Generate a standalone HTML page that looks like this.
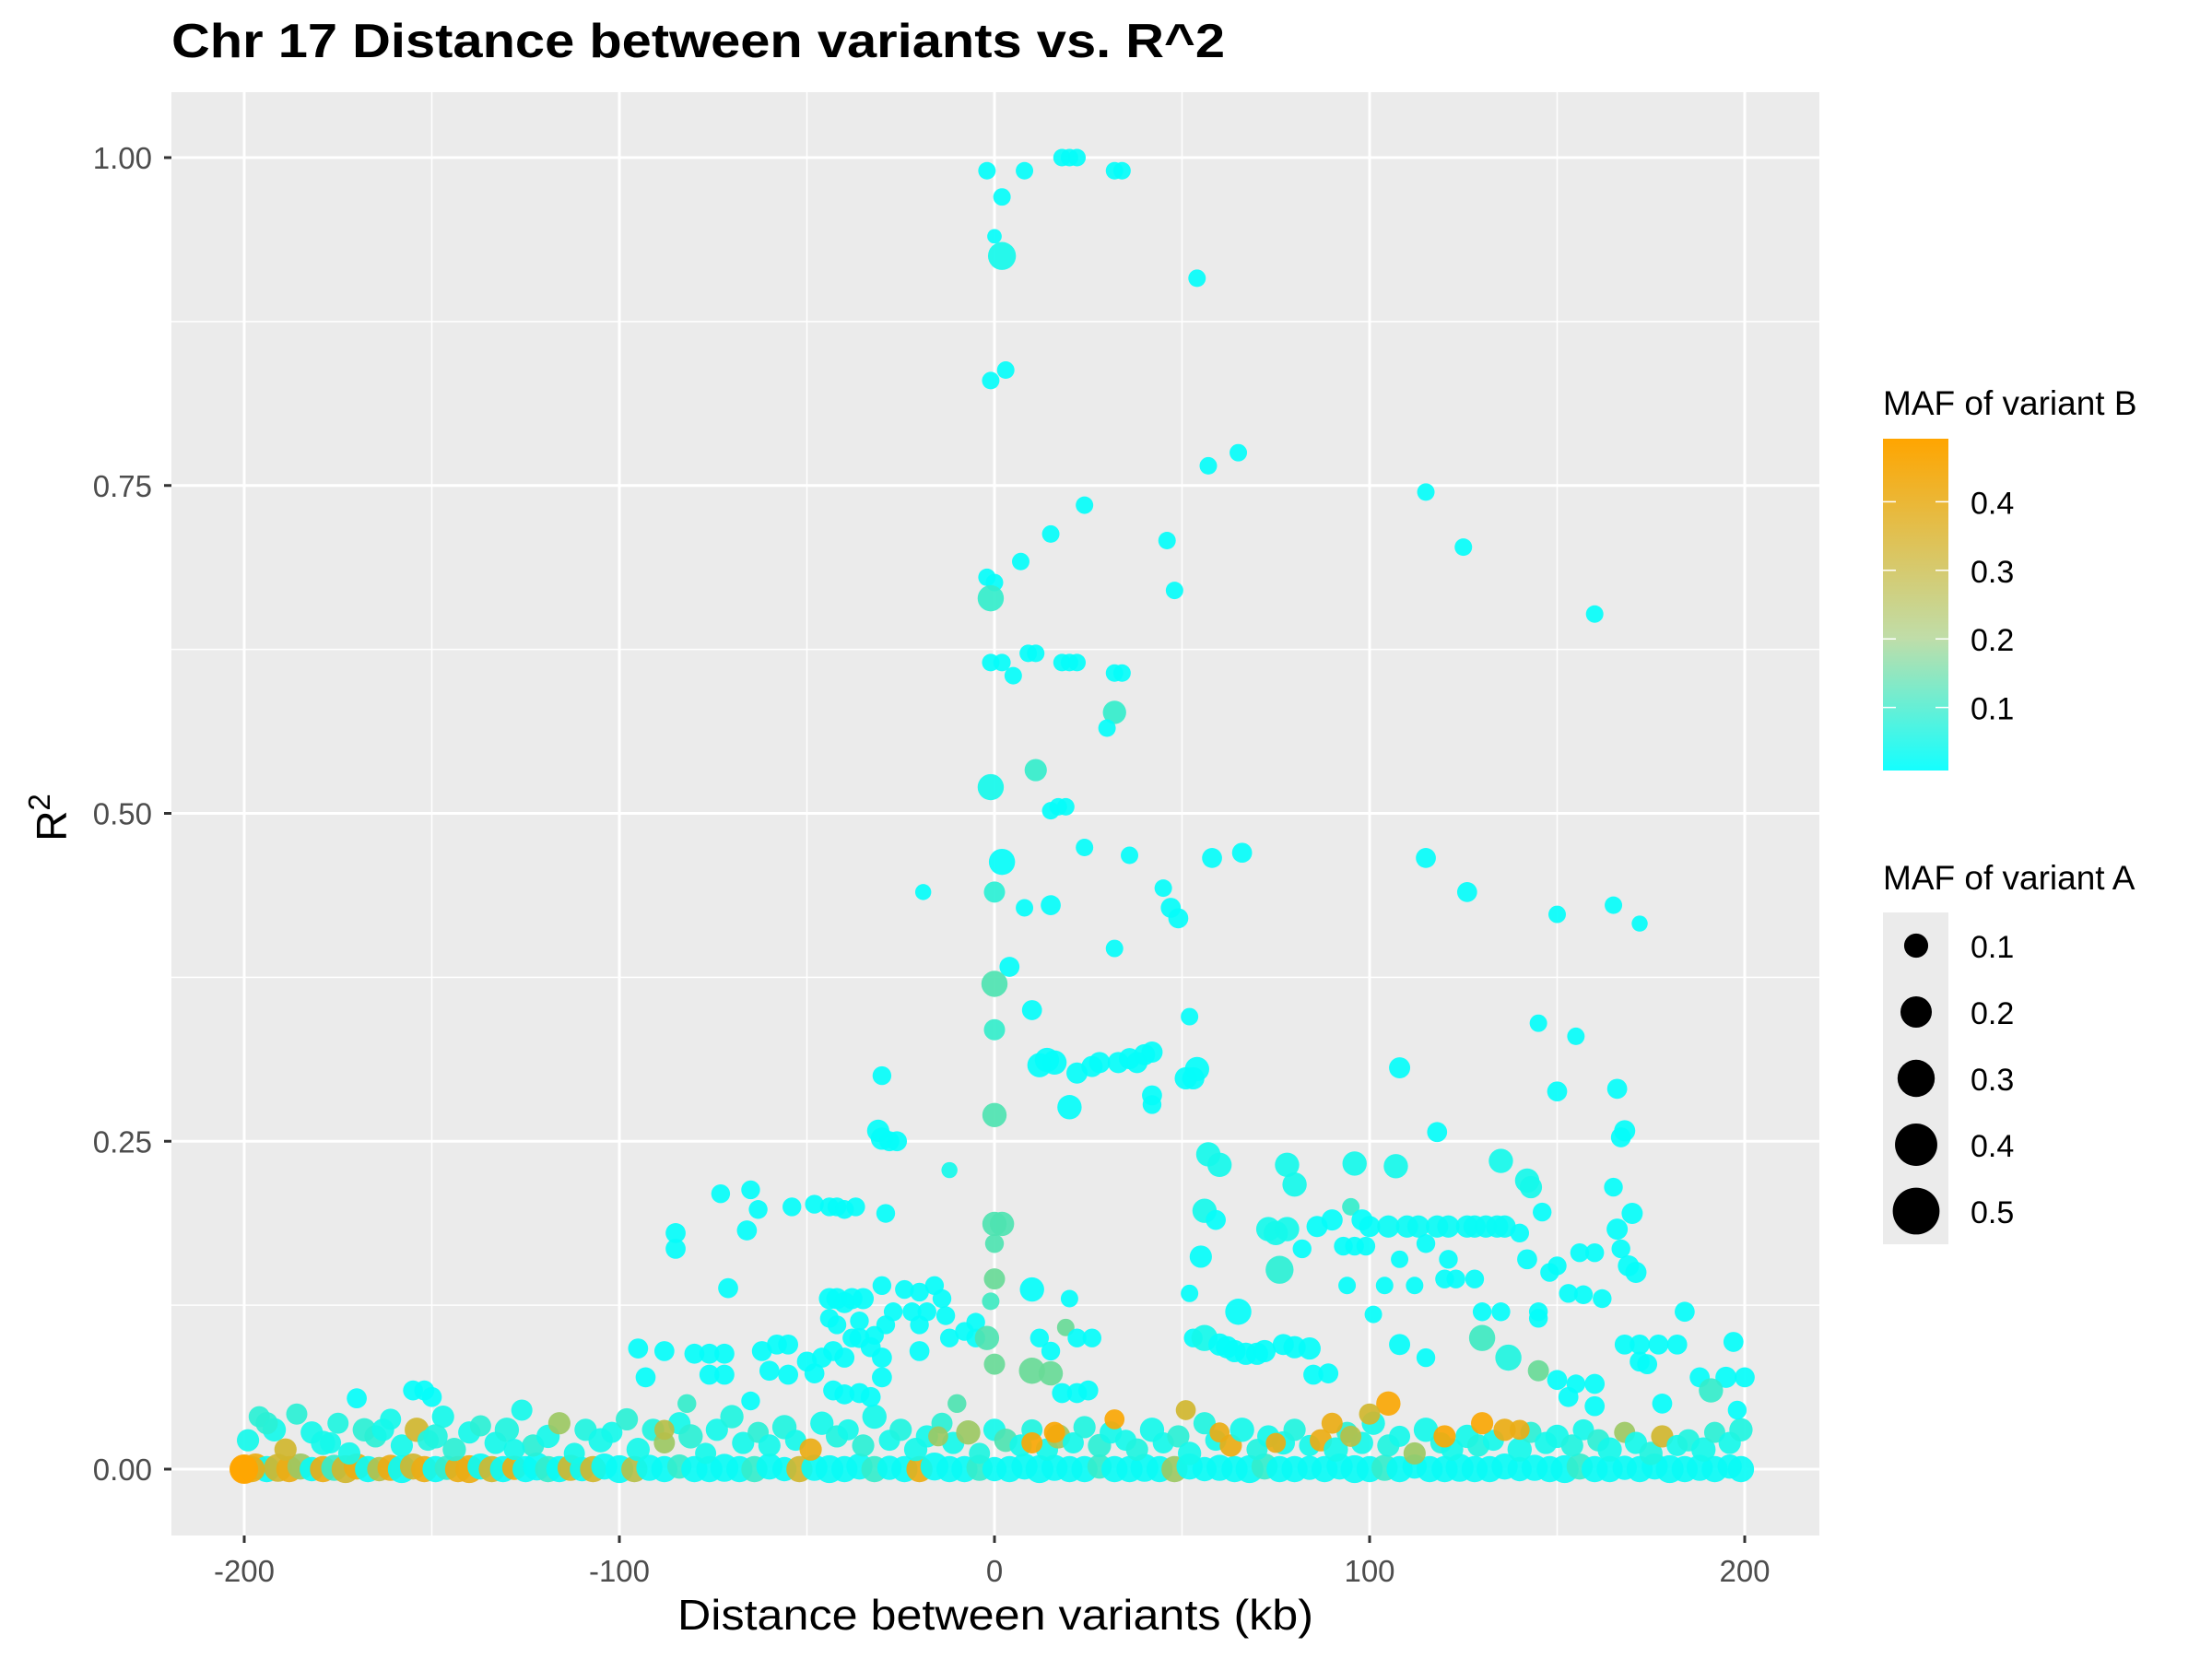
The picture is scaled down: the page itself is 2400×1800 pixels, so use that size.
<!DOCTYPE html>
<html><head><meta charset="utf-8"><style>
html,body{margin:0;padding:0;background:#fff;}
svg{display:block;font-family:"Liberation Sans",Arial,sans-serif;}
</style></head><body>
<svg id="chart" width="2400" height="1800" viewBox="0 0 2400 1800" xmlns="http://www.w3.org/2000/svg">
<rect x="0" y="0" width="2400" height="1800" fill="#fff"/>
<text x="186" y="62" font-size="52" font-weight="bold" fill="#000" textLength="1143" lengthAdjust="spacingAndGlyphs">Chr 17 Distance between variants vs. R^2</text>
<rect x="186" y="100" width="1788" height="1566" fill="#EBEBEB"/>
<g id="grid"></g>
<g id="ticks"></g>
<g id="points"></g>
<text x="1080" y="1768" font-size="46" text-anchor="middle" fill="#000" textLength="690" lengthAdjust="spacingAndGlyphs">Distance between variants (kb)</text>
<text transform="translate(72,887) rotate(-90)" font-size="46" text-anchor="middle" fill="#000">R<tspan dy="-18" font-size="33">2</tspan></text>
<defs><linearGradient id="cgrad" x1="0" y1="1" x2="0" y2="0"><stop offset="0" stop-color="#14FFFF"/><stop offset="0.4" stop-color="#C0DDA8"/><stop offset="1" stop-color="#FFA500"/></linearGradient></defs>
<g transform="translate(-11,-4)">
<text x="2054" y="454" font-size="37" fill="#000">MAF of variant B</text>
<rect x="2054" y="480" width="71" height="360" fill="url(#cgrad)"/>
<g id="clegend"></g>
<text x="2054" y="969" font-size="37" fill="#000">MAF of variant A</text>
<rect x="2054" y="994" width="71" height="360" fill="#EBEBEB"/>
<g id="slegend"></g>
</g>
</svg>
<script>
const xTicks=[-200,-100,0,100,200];
const xMinor=[-150,-50,50,150];
const yTicks=[0,0.25,0.5,0.75,1];
const yTickLabels=["0.00","0.25","0.50","0.75","1.00"];
const yMinor=[0.125,0.375,0.625,0.875];
const colorTicks=[0.1,0.2,0.3,0.4];
const sizeTicks=[0.1,0.2,0.3,0.4,0.5];

const scatterDist=[-2,2,8,18,20,22,32,34,0,2,
54,-1,3,57,65,115,125,24,15,46,
7,-2,0,-1,48,160,2,-1,9,11,
5,18,20,22,32,34,32,30,-1,11,
15,17,19,2,24,36,58,66,115,126,
-19,0,8,15,45,47,49,150,165,172,
4,32,0,0,10,52,145,155,12,14,
16,22,26,28,33,36,38,40,42,54,
53,51,108,42,42,20,166,150,-30,0,
-31,-30,-28,-26,118,168,167,-12,57,60,
78,80,96,107,135,142,143,165,-73,-65,
-63,-54,-48,-44,-42,-40,-37,-29,0,2,
56,59,73,75,78,86,90,95,98,100,
105,110,113,118,121,126,128,131,134,136,
140,146,166,170,-85,-85,-66,0,55,82,
93,96,99,115,121,142,148,150,156,160,
167,169,171,76,-71,-44,-42,-40,-38,-35,
-30,-24,-20,-16,-14,-22,-18,-13,-27,-29,
-36,-44,-42,-38,-32,-20,0,-1,10,20,
52,65,94,101,104,108,112,120,123,128,
130,135,145,145,153,157,162,-12,-5,-8,
-5,-2,0,12,15,19,22,26,-95,-88,
-80,-76,-72,-62,-58,-55,-50,-46,-43,-40,
-36,-33,-30,-20,53,56,60,62,64,67,
70,72,77,80,84,108,115,130,137,155,
160,168,172,177,182,172,174,184,197,-93,
-76,-72,-60,-55,-48,-30,-43,-40,-36,-33,
-170,-155,-152,-150,-65,-82,-10,10,15,18,
22,25,85,89,145,150,153,160,178,188,
195,200,198,191,105,130,90,32,51,16,
120,100,10,75,-88,-15,60,95,140,-200];
const scatterR2=[.99,.97,.99,1,1,1,.99,.99,.94,.925,
.908,.83,.838,.765,.775,.745,.703,.735,.713,.708,
.692,.68,.676,.664,.67,.652,.615,.615,.622,.622,
.605,.615,.615,.615,.607,.607,.577,.565,.52,.533,
.502,.505,.505,.463,.474,.468,.466,.47,.466,.44,
.44,.44,.428,.43,.443,.428,.42,.423,.43,.416,
.383,.397,.37,.335,.35,.345,.34,.33,.308,.312,
.31,.302,.307,.31,.31,.313,.31,.316,.318,.305,
.298,.298,.306,.285,.278,.276,.29,.288,.3,.27,
.258,.252,.25,.25,.257,.258,.253,.228,.24,.232,
.232,.217,.233,.231,.235,.22,.215,.215,.21,.213,
.198,.2,.202,.2,.2,.198,.2,.195,.187,.187,
.197,.19,.183,.18,.183,.185,.19,.2,.19,.185,
.185,.185,.185,.185,.185,.185,.185,.185,.185,.185,
.18,.196,.183,.195,.18,.168,.182,.172,.162,.168,
.17,.17,.17,.172,.16,.16,.15,.155,.165,.165,
.168,.155,.15,.152,.138,.13,.13,.127,.13,.13,
.14,.137,.135,.14,.13,.12,.12,.117,.12,.11,
.113,.115,.11,.1,.102,.11,.145,.128,.137,.13,
.134,.12,.14,.118,.14,.16,.14,.145,.145,.145,
.12,.12,.12,.115,.134,.133,.13,.1,.1,.105,
.112,.1,.08,.1,.09,.108,.1,.1,.092,.09,
.088,.088,.088,.09,.095,.095,.082,.085,.09,.085,
.1,.093,.085,.09,.1,.1,.095,.093,.09,.088,
.088,.09,.095,.093,.092,.095,.085,.1,.085,.065,
.065,.095,.095,.095,.095,.082,.08,.12,.097,.07,
.072,.072,.075,.072,.073,.07,.06,.057,.058,.055,
.054,.06,.06,.055,.052,.05,.05,.075,.073,.058,
.058,.06,.072,.073,.075,.068,.055,.048,.05,.07,
.07,.07,.045,.06,.05,.035,.035,.038,.045,.028,
.025,.042,.02,.02,.03,.025,.028,.025,.03,0];
const scatterB=[.01,.01,.01,.01,.01,.01,.01,.01,.01,.04,
.01,.01,.01,.01,.01,.01,.01,.01,.01,.01,
.01,.01,.01,.1,.01,.01,.01,.01,.01,.01,
.01,.01,.01,.01,.01,.01,.1,.01,.04,.1,
.01,.01,.01,.01,.01,.01,.01,.01,.01,.01,
.01,.08,.01,.01,.01,.01,.01,.01,.01,.01,
.01,.01,.15,.1,.01,.01,.01,.01,.01,.01,
.01,.01,.01,.01,.01,.01,.01,.01,.01,.01,
.01,.01,.01,.01,.01,.01,.01,.01,.01,.15,
.01,.01,.01,.01,.01,.01,.01,.04,.04,.04,
.04,.04,.04,.04,.04,.04,.04,.01,.01,.01,
.01,.01,.01,.01,.01,.01,.01,.01,.15,.15,
.04,.01,.04,.04,.04,.01,.01,.1,.01,.01,
.02,.02,.02,.02,.02,.02,.02,.02,.02,.02,
.01,.01,.01,.01,.01,.01,.01,.15,.01,.01,
.01,.01,.01,.01,.01,.01,.01,.01,.01,.01,
.01,.01,.01,.08,.01,.01,.01,.01,.01,.01,
.01,.01,.01,.01,.01,.01,.01,.01,.01,.01,
.01,.01,.01,.01,.01,.01,.2,.12,.01,.01,
.01,.01,.01,.01,.01,.01,.01,.01,.01,.01,
.01,.01,.01,.01,.01,.01,.01,.01,.01,.01,
.01,.15,.2,.01,.01,.2,.01,.01,.01,.01,
.01,.01,.01,.01,.01,.01,.01,.01,.01,.01,
.01,.01,.01,.01,.01,.04,.01,.01,.01,.01,
.01,.01,.01,.01,.01,.01,.01,.12,.06,.01,
.01,.01,.01,.01,.01,.01,.01,.01,.01,.01,
.01,.01,.01,.01,.01,.01,.01,.01,.01,.01,
.01,.01,.01,.01,.01,.1,.15,.2,.2,.01,
.01,.01,.01,.01,.2,.01,.01,.01,.01,.01,
.01,.01,.01,.1,.48,.48,.45,.48,.4,.48,
.48,.4,.48,.45,.35,.3,.45,.35,.45,.49];
const scatterA=[.02,.02,.02,.02,.02,.02,.02,.02,0,.12,
.02,.02,.02,.02,.02,.02,.02,.02,.02,.02,
.02,.02,.02,.1,.02,.02,.02,.02,.02,.02,
.02,.02,.02,.02,.02,.02,.07,.02,.1,.06,
.02,.02,.02,.1,.02,.02,.04,.04,.04,.04,
.01,.05,.02,.04,.02,.04,.04,.02,.02,.01,
.04,.02,.1,.05,.04,.02,.02,.02,.08,.08,
.08,.05,.05,.05,.05,.05,.05,.05,.05,.08,
.06,.06,.05,.04,.03,.08,.04,.04,.03,.08,
.06,.06,.04,.04,.04,.05,.04,.01,.08,.08,
.08,.08,.08,.08,.08,.08,.06,.03,.03,.03,
.03,.03,.03,.03,.03,.03,.03,.03,.08,.08,
.08,.04,.08,.08,.08,.05,.05,.02,.05,.05,
.06,.06,.06,.06,.06,.06,.06,.06,.06,.06,
.03,.03,.05,.05,.04,.04,.04,.03,.06,.03,
.03,.03,.03,.03,.03,.04,.03,.03,.03,.03,
.03,.05,.05,.12,.04,.05,.05,.05,.05,.05,
.03,.03,.03,.03,.03,.03,.03,.03,.03,.03,
.03,.03,.03,.03,.03,.03,.05,.02,.08,.02,
.02,.1,.02,.02,.02,.02,.02,.03,.03,.03,
.03,.03,.03,.03,.03,.03,.03,.03,.03,.03,
.03,.08,.05,.03,.03,.02,.03,.03,.04,.04,
.04,.04,.04,.04,.04,.04,.04,.04,.04,.04,
.04,.04,.04,.04,.03,.1,.06,.06,.06,.06,
.06,.06,.05,.06,.06,.05,.03,.1,.1,.03,
.04,.04,.04,.04,.04,.04,.04,.04,.04,.04,
.04,.04,.04,.04,.04,.04,.04,.04,.04,.04,
.04,.04,.04,.04,.03,.03,.03,.1,.08,.04,
.04,.04,.04,.04,.05,.04,.04,.04,.04,.04,
.05,.04,.03,.08,.08,.06,.05,.04,.04,.05,
.06,.05,.05,.04,.04,.04,.04,.05,.04,.12];

const baseDist=[-200,-197,-194,-191,-188,-185,-182,-179,-176,-173,
-170,-167,-164,-161,-158,-155,-152,-149,-146,-143,
-140,-137,-134,-131,-128,-125,-122,-119,-116,-113,
-110,-107,-104,-100,-96,-92,-88,-84,-80,-76,
-72,-68,-64,-60,-56,-52,-48,-44,-40,-36,
-32,-28,-24,-20,-16,-12,-8,-4,0,4,
8,12,16,20,24,28,32,36,40,44,
48,52,56,60,64,68,72,76,80,84,
88,92,96,100,104,108,112,116,120,124,
128,132,136,140,144,148,152,156,160,164,
168,172,176,180,184,188,192,196,199,-198];
const baseR2=[0,.002,0,.001,0,.002,0,0,.001,0,
.002,0,0,.001,0,.002,0,0,.001,0,
0,.002,0,0,.001,0,.002,0,0,.001,
0,0,.002,0,0,.001,0,.002,0,0,
.001,0,0,.002,0,0,.001,0,0,.002,
0,.001,0,0,.002,0,0,.001,0,0,
.002,0,.001,0,0,.002,0,0,.001,0,
0,.002,0,.001,0,0,.002,0,0,.001,
0,.002,0,0,.001,0,.002,0,0,.001,
0,0,.002,0,.001,0,0,.002,0,0,
.001,0,.002,0,0,.001,0,.002,0,0];
const baseB=[.49,.45,.02,.4,.45,.3,.02,.45,.1,.4,
.45,.02,.35,.45,.02,.4,.45,.02,.1,.45,
.45,.02,.4,.02,.45,.02,.02,.1,.02,.4,
.02,.4,.02,.02,.35,.02,.02,.1,.02,.02,
.02,.02,.1,.02,.02,.4,.02,.02,.02,.02,
.1,.02,.02,.45,.02,.02,.02,.1,.02,.02,
.02,.02,.02,.02,.02,.1,.02,.02,.02,.02,
.3,.02,.02,.02,.02,.02,.1,.02,.02,.02,
.02,.02,.02,.02,.1,.02,.02,.02,.02,.02,
.02,.02,.02,.02,.02,.02,.02,.1,.02,.02,
.02,.02,.02,.02,.02,.02,.02,.02,.02,.45];
const baseA=[.14,.1,.1,.12,.1,.1,.08,.1,.1,.12,
.1,.1,.08,.1,.12,.1,.1,.1,.08,.1,
.12,.1,.1,.1,.08,.1,.12,.1,.1,.1,
.08,.1,.1,.12,.1,.1,.1,.08,.1,.1,
.12,.1,.1,.1,.08,.1,.1,.12,.1,.1,
.1,.08,.1,.1,.12,.1,.1,.1,.08,.1,
.1,.12,.1,.1,.1,.08,.1,.1,.12,.1,
.1,.1,.08,.1,.1,.12,.1,.1,.1,.08,
.1,.1,.12,.1,.1,.1,.08,.1,.1,.12,
.1,.1,.1,.08,.1,.1,.12,.1,.1,.1,
.08,.1,.1,.12,.1,.1,.1,.08,.1,.1];

const bandDist=[-199,-196,-192,-189,-186,-182,-179,-175,-172,-168,
-165,-161,-158,-154,-151,-147,-144,-140,-137,-133,
-130,-126,-123,-119,-116,-112,-109,-105,-102,-98,
-95,-91,-88,-84,-81,-77,-74,-70,-67,-63,
-60,-56,-53,-49,-46,-42,-39,-35,-32,-28,
-25,-21,-18,-14,-11,-7,-4,0,3,7,
10,14,17,21,24,28,31,35,38,42,
45,49,52,56,59,63,66,70,73,77,
80,84,87,91,94,98,101,105,108,112,
115,119,122,126,129,133,136,140,143,147,
150,154,157,161,164,168,171,175,178,182,
185,189,192,196,199,-194,-177,-163,-149,-128];
const bandR2=[.022,.04,.03,.015,.042,.028,.02,.035,.012,.03,
.025,.038,.018,.03,.022,.04,.015,.028,.033,.02,
.03,.045,.018,.025,.035,.012,.03,.022,.028,.038,
.015,.03,.02,.035,.025,.012,.03,.04,.02,.028,
.018,.032,.022,.015,.035,.025,.03,.018,.04,.022,
.03,.015,.025,.035,.02,.028,.012,.03,.022,.018,
.03,.015,.025,.02,.032,.018,.028,.022,.015,.03,
.02,.025,.012,.035,.022,.018,.03,.015,.025,.02,
.03,.018,.022,.015,.028,.02,.035,.018,.025,.012,
.03,.02,.015,.025,.018,.022,.03,.015,.028,.02,
.025,.018,.03,.022,.015,.028,.02,.012,.025,.018,
.022,.015,.028,.02,.03,.035,.02,.03,.025,.015];
const bandB=[.04,.08,.04,.4,.08,.04,.04,.06,.04,.08,
.08,.04,.04,.4,.06,.04,.08,.04,.08,.04,
.06,.04,.08,.04,.3,.04,.06,.04,.04,.08,
.04,.06,.3,.04,.08,.04,.04,.06,.04,.08,
.04,.06,.04,.45,.04,.06,.04,.08,.04,.04,
.06,.04,.04,.08,.04,.3,.06,.04,.15,.04,
.06,.04,.3,.04,.06,.08,.04,.04,.06,.04,
.04,.08,.04,.06,.04,.45,.04,.06,.04,.04,
.06,.04,.45,.04,.08,.04,.04,.06,.04,.3,
.04,.06,.04,.04,.06,.04,.45,.04,.08,.04,
.04,.06,.04,.08,.04,.3,.04,.06,.4,.04,
.06,.04,.08,.04,.06,.08,.04,.04,.06,.04];
const bandA=[.06,.05,.07,.06,.05,.06,.08,.05,.06,.07,
.06,.05,.06,.08,.05,.06,.07,.06,.05,.06,
.08,.05,.06,.07,.06,.05,.06,.08,.05,.06,
.07,.06,.05,.06,.08,.05,.06,.07,.06,.05,
.06,.08,.05,.06,.07,.06,.05,.06,.08,.05,
.06,.07,.06,.05,.06,.08,.05,.06,.07,.06,
.05,.06,.08,.05,.06,.07,.06,.05,.06,.08,
.05,.06,.07,.06,.05,.06,.08,.05,.06,.07,
.06,.05,.06,.08,.05,.06,.07,.06,.05,.06,
.08,.05,.06,.07,.06,.05,.06,.08,.05,.06,
.07,.06,.05,.06,.08,.05,.06,.07,.06,.05,
.06,.08,.05,.06,.07,.06,.05,.06,.08,.05];

const NS="http://www.w3.org/2000/svg";
function xS(d){return 265+(d+200)*1628/400;}
function yS(r){return 1594-r*1423;}
function rS(m){return Math.sqrt(62+1400*m);}
function cS(m){
  const t=Math.max(0,Math.min(1,m/0.49));
  const c0=[0,255,255],c1=[255,165,0];
  const c=c0.map((v,i)=>Math.round(v+(c1[i]-v)*t));
  return "rgb("+c.join(",")+")";
}
function mk(tag,attrs,parent){const e=document.createElementNS(NS,tag);for(const k in attrs)e.setAttribute(k,attrs[k]);parent.appendChild(e);return e;}

const grid=document.getElementById('grid');
yMinor.forEach(v=>{const l=mk('line',{x1:186,x2:1974,y1:yS(v),y2:yS(v),stroke:'#fff','stroke-width':1.5},grid);

});
xMinor.forEach(v=>{const l=mk('line',{x1:xS(v),x2:xS(v),y1:100,y2:1666,stroke:'#fff','stroke-width':1.5},grid);

});
yTicks.forEach(v=>{const l=mk('line',{x1:186,x2:1974,y1:yS(v),y2:yS(v),stroke:'#fff','stroke-width':3},grid);

});
xTicks.forEach(v=>{const l=mk('line',{x1:xS(v),x2:xS(v),y1:100,y2:1666,stroke:'#fff','stroke-width':3},grid);

});

const tk=document.getElementById('ticks');
yTicks.forEach((v,i)=>{
  const l=mk('line',{x1:178,x2:186,y1:yS(v),y2:yS(v),stroke:'#333','stroke-width':3},tk);
  
  
  const t=mk('text',{x:165,y:yS(v)+12,'font-size':33,'text-anchor':'end',fill:'#4D4D4D'},tk);
  t.textContent=yTickLabels[i];
  
  
});
xTicks.forEach(v=>{
  const l=mk('line',{x1:xS(v),x2:xS(v),y1:1666,y2:1674,stroke:'#333','stroke-width':3},tk);
  
  
  const t=mk('text',{x:xS(v),y:1716,'font-size':33,'text-anchor':'middle',fill:'#4D4D4D'},tk);
  t.textContent=String(v);
  
  
});

const pg=document.getElementById('points');
function drawSet(D,R,B,A,name){
  for(let i=0;i<D.length;i++){
    const c=mk('circle',{cx:xS(D[i]),cy:yS(R[i]),r:rS(A[i]),fill:cS(B[i]),'fill-opacity':0.92},pg);
    
    
  }
}
drawSet(baseDist,baseR2,baseB,baseA,'point');
drawSet(bandDist,bandR2,bandB,bandA,'point');
drawSet(scatterDist,scatterR2,scatterB,scatterA,'point');

const cl=document.getElementById('clegend');
colorTicks.forEach(v=>{
  const y=846-v*744;
  const a=mk('line',{x1:2054,x2:2068,y1:y,y2:y,stroke:'#fff','stroke-width':1.5},cl);
  
  
  const b=mk('line',{x1:2111,x2:2125,y1:y,y2:y,stroke:'#fff','stroke-width':1.5},cl);
  
  
  const t=mk('text',{x:2149,y:y+13,'font-size':34,fill:'#000'},cl);
  t.textContent=String(v);
  
  
});
const sl=document.getElementById('slegend');
sizeTicks.forEach((v,i)=>{
  const y=1030+i*72;
  const c=mk('circle',{cx:2090,cy:y,r:rS(v)*0.92,fill:'#000'},sl);
  
  
  const t=mk('text',{x:2149,y:y+13,'font-size':34,fill:'#000'},sl);
  t.textContent=String(v);
  
  
});
</script>
</body></html>
